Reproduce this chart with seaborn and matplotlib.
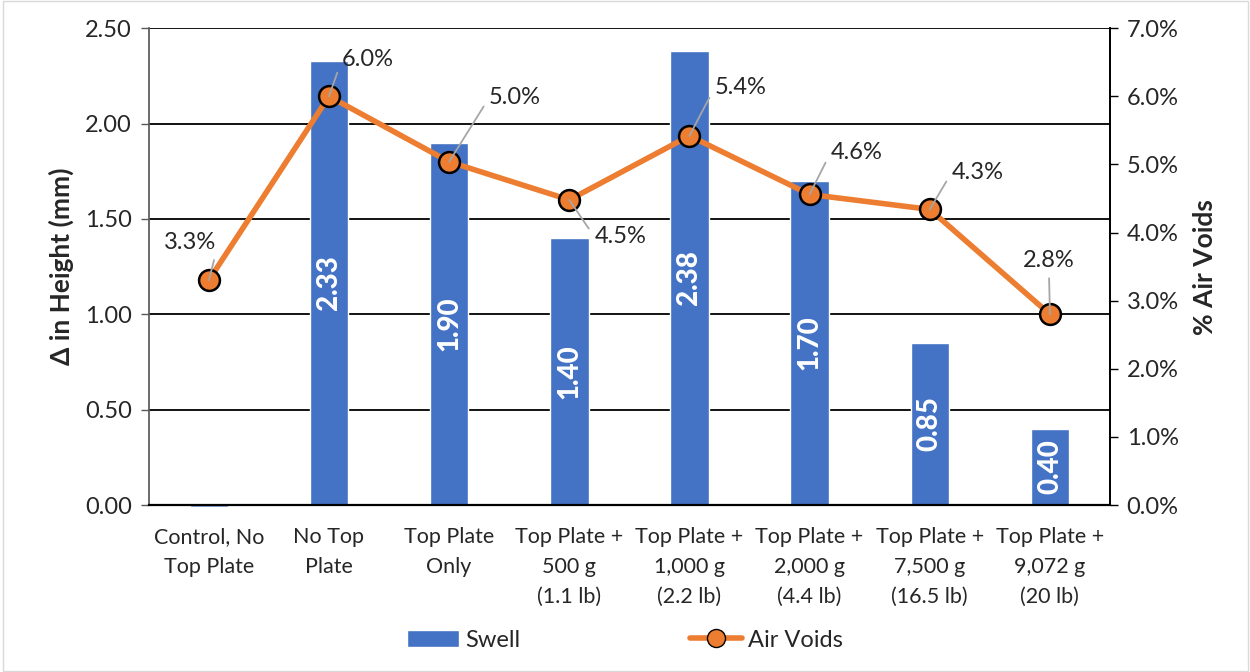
import numpy as np
import pandas as pd
import seaborn as sns
import matplotlib.pyplot as plt
from matplotlib.ticker import PercentFormatter
from matplotlib.patches import Patch
from matplotlib.lines import Line2D

# Daten
kategorien = ["Control, No\nTop Plate", "No Top\nPlate", "Top Plate\nOnly",
              "Top Plate +\n500 g\n(1.1 lb)", "Top Plate +\n1,000 g\n(2.2 lb)",
              "Top Plate +\n2,000 g\n(4.4 lb)", "Top Plate +\n7,500 g\n(16.5 lb)",
              "Top Plate +\n9,072 g\n(20 lb)"]
swell = [-0.01, 2.33, 1.90, 1.40, 2.38, 1.70, 0.85, 0.40]
air_voids = [0.033, 0.060, 0.0504, 0.0448, 0.0542, 0.0456, 0.0434, 0.028]
# Versatz der Prozent-Beschriftungen (Pixel)
label_offsets = [(-19, 38), (39, 37), (66, 64), (51, -37), (51, 48), (47, 42), (48, 37), (-1, 54)]

blau = "#4472C4"
orange = "#ED7D31"

sns.set_theme(style="white")
plt.rcParams["font.family"] = ["Lato", "DejaVu Sans"]

fig = plt.figure(figsize=(12.5, 6.72), dpi=100)
ax = fig.add_axes([0.119, 0.2485, 0.769, 0.7095])

df = pd.DataFrame({"kat": kategorien, "swell": swell})
sns.barplot(data=df, x="kat", y="swell", color=blau, width=0.32, saturation=1, ax=ax, zorder=2)
for p in ax.patches:
    p.set_clip_on(False)

for i, v in enumerate(swell):
    if v > 0:
        ax.text(i, v / 2, f"{v:.2f}", rotation=90, ha="center", va="center",
                color="white", fontsize=20, fontweight="black", zorder=5)

ax.set_ylim(0, 2.5)
ax.set_xlim(-0.5, 7.5)
ax.set_yticks(np.arange(0, 2.51, 0.5))
ax.set_yticklabels([f"{t:.2f}" for t in np.arange(0, 2.51, 0.5)])
ax.yaxis.grid(True, color="black", lw=1.3)
ax.set_axisbelow(True)
ax.set_xlabel("")
ax.set_ylabel("Δ in Height (mm)", fontsize=19, fontweight="bold", labelpad=8)
ax.tick_params(axis="y", labelsize=17, length=6, width=1, color="#595959", left=True, pad=6)
ax.tick_params(axis="x", labelsize=15.5, length=0, pad=16)
for lab in ax.get_xticklabels():
    lab.set_linespacing(1.62)
for s in ["left", "right", "top", "bottom"]:
    ax.spines[s].set_color("black")
ax.spines["left"].set_color("#595959")
ax.spines["bottom"].set_linewidth(1.6)
ax.spines["top"].set_visible(False)

ax2 = ax.twinx()
pos = np.arange(len(kategorien))
sns.lineplot(x=pos, y=air_voids, ax=ax2, color=orange, lw=4, marker="o", markersize=15,
             markerfacecolor=orange, markeredgecolor="black", markeredgewidth=1.8, zorder=4)
ax2.set_ylim(0, 0.07)
ax2.set_yticks(np.arange(0, 0.071, 0.01))
ax2.yaxis.set_major_formatter(PercentFormatter(1.0, decimals=1))
ax2.tick_params(axis="y", labelsize=17, length=6, width=1, color="black", right=True, pad=6)
ax2.set_ylabel("% Air Voids", fontsize=19, fontweight="bold", labelpad=10)
ax2.grid(False)
for s in ["left", "right", "top", "bottom"]:
    ax2.spines[s].set_visible(False)
ax2.spines["right"].set_visible(True)
ax2.spines["right"].set_color("black")

for i, (v, off) in enumerate(zip(air_voids, label_offsets)):
    rel = (0, 0.5) if off[0] > 10 else ((1, 0) if off[0] < -10 else (0.5, 0))
    ax2.annotate(f"{v * 100:.1f}%", xy=(i, v), xytext=off, textcoords="offset pixels",
                 ha="center", va="center", fontsize=17, zorder=6,
                 arrowprops=dict(arrowstyle="-", color="#a6a6a6", lw=1.3,
                                 shrinkA=3, shrinkB=0, relpos=rel))

handles = [Patch(facecolor=blau, label="Swell"),
           Line2D([], [], color=orange, lw=4, marker="o", markersize=13,
                  markerfacecolor=orange, markeredgecolor="black", label="Air Voids")]
fig.legend(handles=handles, loc="lower center", bbox_to_anchor=(0.5, 0.0), ncol=2,
           frameon=False, fontsize=17, columnspacing=7.2, handlelength=2.2, handletextpad=0.25)

fig.patches.append(plt.Rectangle((0.002, 0.002), 0.996, 0.996, transform=fig.transFigure,
                                 fill=False, edgecolor="#d9d9d9", lw=1))

fig.savefig("out.png", dpi=100)
